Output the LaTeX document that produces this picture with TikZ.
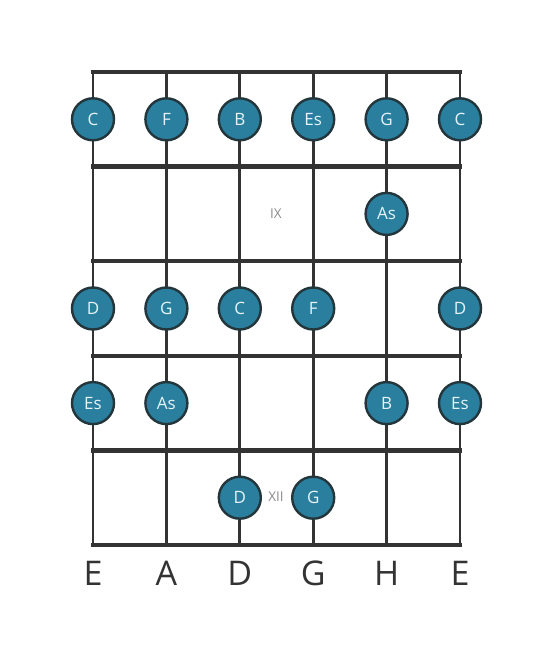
\documentclass[tikz,border=0pt]{standalone}
\usepackage{fontspec}
\setmainfont{Open Sans}
\definecolor{wire}{HTML}{333333}
\definecolor{dotfill}{HTML}{2B7F9E}
\definecolor{dotedge}{HTML}{22363C}
\definecolor{dottext}{HTML}{E4F4F9}
\definecolor{fretno}{HTML}{8A8A8A}
\begin{document}
\begin{tikzpicture}[x=1pt,y=-1pt,line join=round]
				\tikzset{note/.style={circle,draw=dotedge,fill=dotfill,line width=2.4pt,minimum size=42pt,inner sep=0pt,text=dottext,font=\fontsize{17}{17}\selectfont},
					fretlabel/.style={text=fretno,font=\fontsize{13.5}{13.5}\selectfont},
					tuning/.style={text=wire,font=\fontsize{34}{34}\selectfont}}
				\useasboundingbox (0,0) rectangle (553,656);
				% strings
				\foreach \s in {0,...,5}
				\draw[wire,line width=2.8pt] (93+73.4*\s,72)--(93+73.4*\s,545);
				% frets
				\foreach \f in {0,...,5}
				\draw[wire,line width=4.5pt,line cap=rect] (93,72+94.6*\f)--(460,72+94.6*\f);
				% fret numbers
				\node[fretlabel] (ix) at (276,214) {IX};
				\node[fretlabel] (xii) at (276,497) {XII};
				% notes
				\foreach \s/\r/\n in {0/0/C,1/0/F,2/0/B,3/0/Es,4/0/G,5/0/C,4/1/As,0/2/D,1/2/G,2/2/C,3/2/F,5/2/D,0/3/Es,1/3/As,4/3/B,5/3/Es,2/4/D,3/4/G}
				\node[note] (n\s\r) at (93+73.4*\s,119.3+94.6*\r) {\n};
				% open strings
				\foreach \s/\n in {0/E,1/A,2/D,3/G,4/H,5/E}
				\node[tuning] (open\s) at (93+73.4*\s,573) {\n};
			\end{tikzpicture}
\end{document}
